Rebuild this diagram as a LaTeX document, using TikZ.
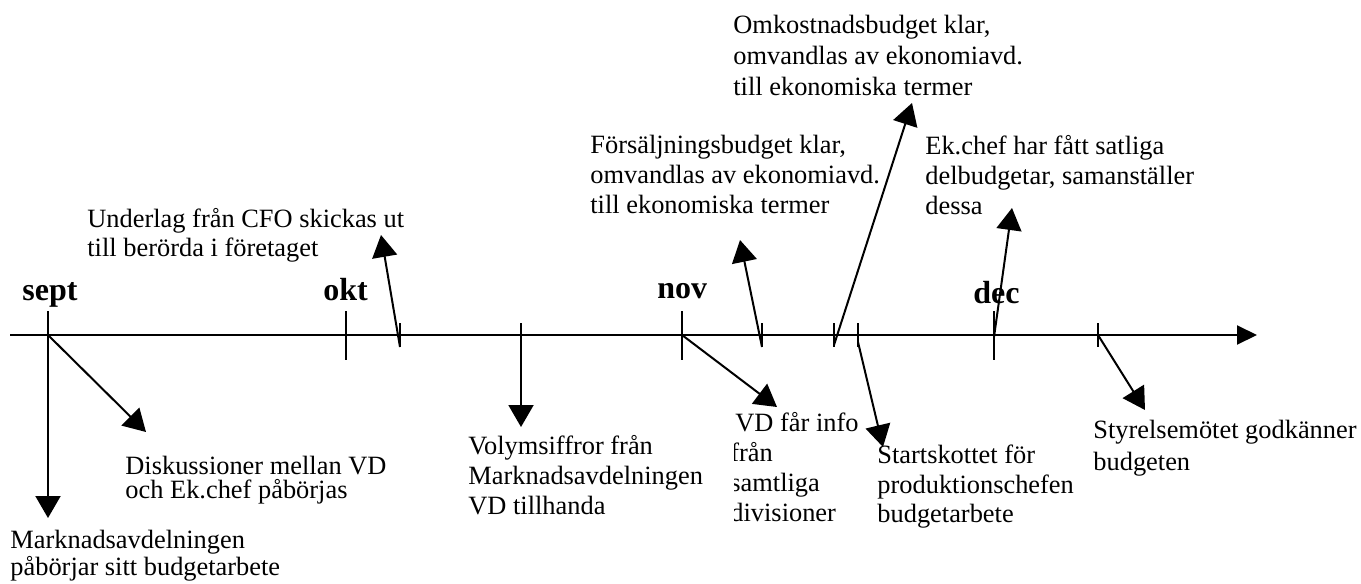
\documentclass[tikz,border=0pt]{standalone}
\usepackage{fontspec}
\setmainfont{Liberation Serif}
\usetikzlibrary{arrows.meta}

\begin{document}
\begin{tikzpicture}[x=0.5pt,y=-0.5pt,
  axisline/.style={line width=1pt,-{Triangle[length=10pt,width=9.5pt]}},
  tickmark/.style={line width=1pt},
  pointer/.style={line width=1pt,-{Triangle[length=11pt,width=12.5pt]}},
  month/.style={font=\fontsize{16}{19}\selectfont\bfseries,anchor=base west,inner sep=0pt},
  note/.style={font=\fontsize{13.2}{15}\selectfont,align=left,anchor=north west,inner sep=0pt},
]
\useasboundingbox (0,0) rectangle (1361,584);

% time axis
\coordinate (start) at (10,335);
\coordinate (end) at (1257,335);
\draw[axisline] (start) -- (end);

% points on the axis
\coordinate (sep) at (48,335);
\coordinate (okt) at (346,335);
\coordinate (e3) at (400,335);
\coordinate (e4) at (521,335);
\coordinate (nov) at (682,335);
\coordinate (e6) at (762,335);
\coordinate (e7) at (834,335);
\coordinate (e8) at (858,335);
\coordinate (dec) at (994,335);
\coordinate (e10) at (1098,335);

% month ticks
\foreach \m in {sep,okt,nov,dec}
  \draw[tickmark] ([yshift=12pt]\m) -- ([yshift=-12.5pt]\m);
% event ticks
\foreach \e in {e3,e4,e6,e7,e8,e10}
  \draw[tickmark] ([yshift=6pt]\e) -- ([yshift=-6pt]\e);

% month labels
\node[month] (lsep) at (22,300) {sept};
\node[month] (lokt) at (323,300) {okt};
\node[month] (lnov) at (657,298) {nov};
\node[month] (ldec) at (973,303) {dec};

% event texts
\node[note] (t1) at (10,530) [font=\fontsize{13.2}{12}\selectfont]
  {Marknadsavdelningen\\påbörjar sitt budgetarbete};
\node[note] (t2) at (125,456) [font=\fontsize{13.2}{11.75}\selectfont]
  {Diskussioner mellan VD\\och Ek.chef påbörjas};
\node[note] (t3) at (87,208) [font=\fontsize{13.2}{14.5}\selectfont]
  {Underlag från CFO skickas ut\\till berörda i företaget};
\node[note] (t4) at (468,435)
  {Volymsiffror från\\Marknadsavdelningen\\VD tillhanda};
\begin{scope}
  \clip (734.5,380) rectangle (870,545);
  \node[note] (t5) at (730,412)
    {\hspace{2.5pt}VD får info\\från\\samtliga\\divisioner};
\end{scope}
\node[note] (t6) at (590,135)
  {Försäljningsbudget klar,\\omvandlas av ekonomiavd.\\till ekonomiska termer};
\node[note] (t7) at (733,15) [font=\fontsize{13.2}{15.5}\selectfont]
  {Omkostnadsbudget klar,\\omvandlas av ekonomiavd.\\till ekonomiska termer};
\node[note] (t8) at (877,445) [font=\fontsize{13.2}{14.75}\selectfont]
  {Startskottet för\\produktionschefen\\budgetarbete};
\node[note] (t9) at (925,135)
  {Ek.chef har fått satliga\\delbudgetar, samanställer\\dessa};
\node[note] (t10) at (1093,420) [font=\fontsize{13.2}{16}\selectfont]
  {Styrelsemötet godkänner\\budgeten};

% arrow tips next to the texts
\coordinate (p1) at (48,518);
\coordinate (p2) at (146,432);
\coordinate (p3) at (381,235);
\coordinate (p4) at (521,427);
\coordinate (p5) at (777,407);
\coordinate (p6) at (740,240);
\coordinate (p7) at (912,103);
\coordinate (p8) at (883,447);
\coordinate (p9) at (1012,208);
\coordinate (p10) at (1145,410);

% pointers from the axis to the texts
\draw[pointer] (sep) -- (p1);
\draw[pointer] (sep) -- (p2);
\draw[pointer] ([yshift=-6pt]e3) -- (p3);
\draw[pointer] ([yshift=-6pt]e4) -- (p4);
\draw[pointer] (nov) -- (p5);
\draw[pointer] ([yshift=-6pt]e6) -- (p6);
\draw[pointer] ([yshift=-5pt]e7) -- (p7);
\draw[pointer] ([yshift=-3.5pt]e8) -- (p8);
\draw[pointer] ([yshift=-1pt]dec) -- (p9);
\draw[pointer] (e10) -- (p10);
\end{tikzpicture}
\end{document}
